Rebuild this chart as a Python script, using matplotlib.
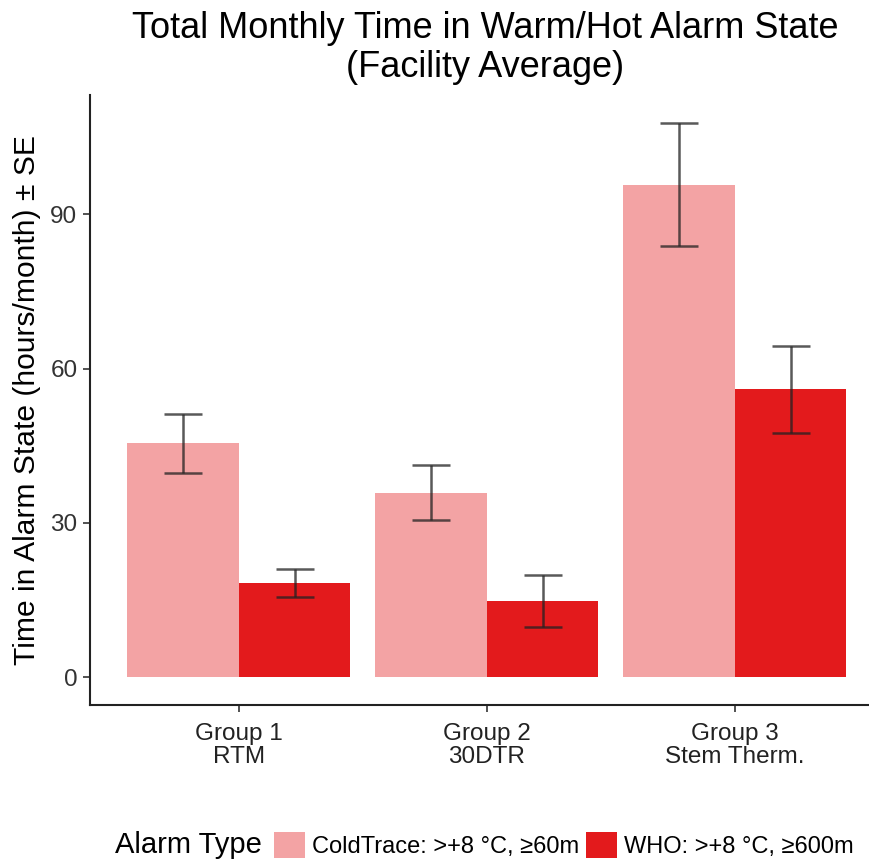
import numpy
import matplotlib
matplotlib.use('Agg')
from matplotlib import pyplot
from matplotlib.patches import Patch

matplotlib.rcParams['font.family'] = ['Liberation Sans', 'DejaVu Sans']

groups = ['Group 1\nRTM', 'Group 2\n30DTR', 'Group 3\nStem Therm.']
series = ['ColdTrace: >+8 °C, ≥60m', 'WHO: >+8 °C, ≥600m']
coldtrace = [45.5, 35.9, 95.8]
coldtrace_se = [5.7, 5.3, 12.0]
who = [18.4, 14.8, 56.0]
who_se = [2.7, 5.0, 8.5]
colours = ['#F3A3A4', '#E31A1C']
yticks = [0, 30, 60, 90]

dpi = 100.0
fig = pyplot.figure(figsize=(870 / dpi, 863 / dpi), dpi=dpi)
ax = fig.add_axes([90 / 870, (863 - 705) / 863, 780 / 870, 610 / 863])

x = numpy.arange(1, len(groups) + 1)
w = 0.45
for i, (vals, se) in enumerate([(coldtrace, coldtrace_se), (who, who_se)]):
	pos = x - w / 2 + i * w
	ax.bar(pos, vals, width=w, color=colours[i], edgecolor='none', zorder=1)
	ax.errorbar(pos, vals, yerr=se, fmt='none', ecolor='#222222', alpha=0.75,
		elinewidth=1.8, capsize=13.5, capthick=1.8, zorder=2)

ax.set_xlim(0.4, 0.4 + 780 / 248.0)
ax.set_ylim(-5.39, 113.2)
ax.set_xticks(x)
ax.set_xticklabels(groups, fontsize=17.5, color='#222222', linespacing=1.05)
ax.set_yticks(yticks)
ax.set_yticklabels([str(t) for t in yticks], fontsize=17.5, color='#333333')
ax.tick_params(length=5, width=1.2, color='#333333', pad=4)
ax.tick_params(axis='x', pad=8)
for s in ['top', 'right']:
	ax.spines[s].set_visible(False)
for s in ['left', 'bottom']:
	ax.spines[s].set_linewidth(1.5)
	ax.spines[s].set_color('#222222')
ax.set_ylabel('Time in Alarm State (hours/month) ± SE', fontsize=21.6, labelpad=7)

fig.text(485 / 870, 1 - 48 / 863, 'Total Monthly Time in Warm/Hot Alarm State\n(Facility Average)',
	ha='center', va='center', fontsize=26, linespacing=1.15)

fig.text(115 / 870, 1 - 845 / 863, 'Alarm Type', ha='left', va='center', fontsize=21)
handles = [Patch(facecolor=c, edgecolor='none') for c in colours]
fig.legend(handles, series, loc='center left', bbox_to_anchor=(274 / 870, 1 - 845 / 863),
	ncol=2, frameon=False, fontsize=17, handlelength=1.3, handleheight=1.3,
	handletextpad=0.3, columnspacing=0.3, borderpad=0, borderaxespad=0)

fig.savefig('out.png', dpi=dpi)
